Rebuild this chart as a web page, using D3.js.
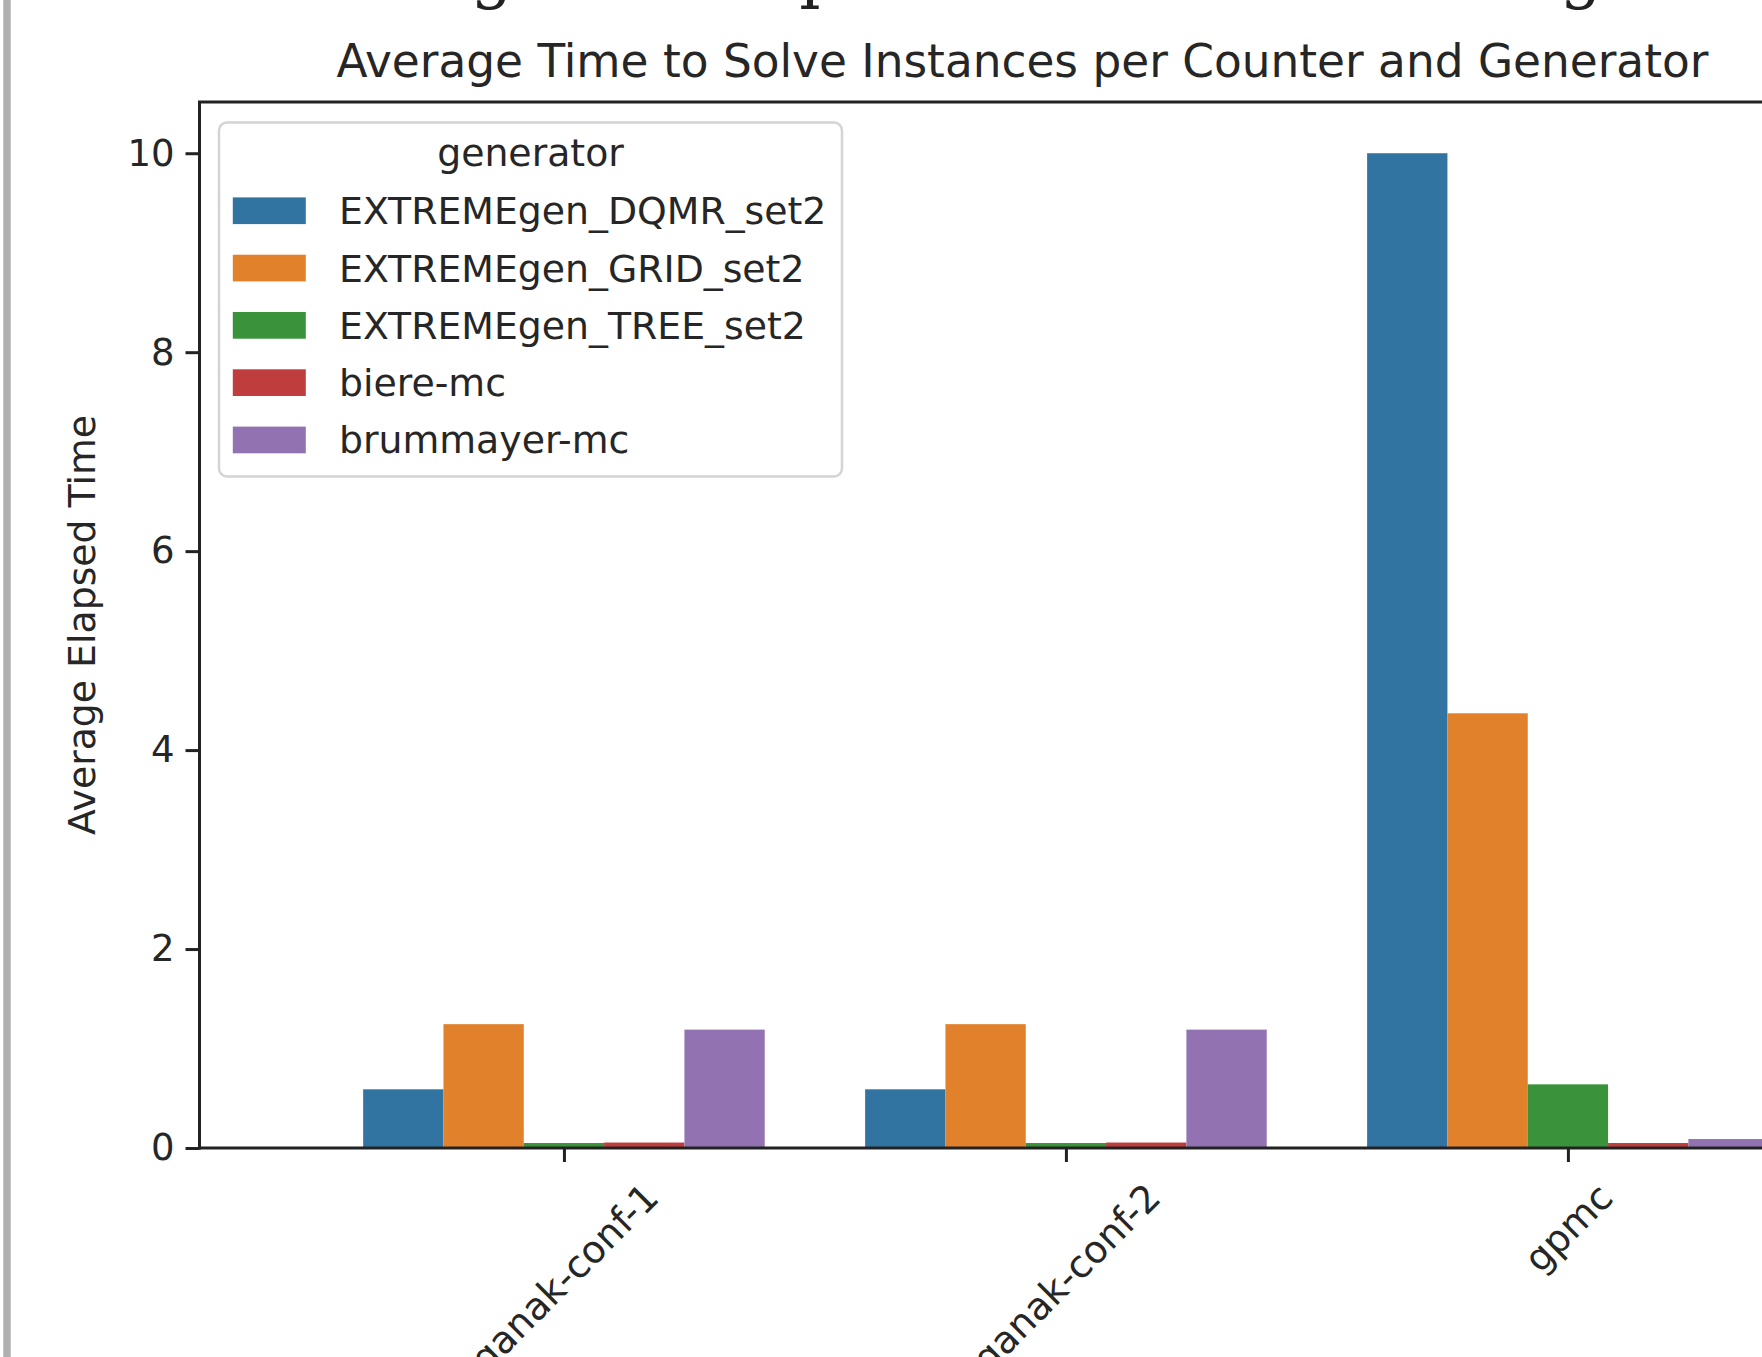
<!DOCTYPE html>
<html>
<head>
<meta charset="utf-8">
<script src="https://cdn.jsdelivr.net/npm/d3@7"></script>
<style>
  html, body { margin: 0; padding: 0; background: #ffffff; overflow: hidden; }
  svg { display: block; }
  text { font-family: "DejaVu Sans", sans-serif; fill: #262626; }
</style>
</head>
<body>
<svg id="chart" width="1762" height="1357"></svg>
<script>
// ---------------- data ----------------
const categories = ["ganak-conf-1", "ganak-conf-2", "gpmc"];
const generators = ["EXTREMEgen_DQMR_set2", "EXTREMEgen_GRID_set2", "EXTREMEgen_TREE_set2", "biere-mc", "brummayer-mc"];
const dqmrValues      = [0.59, 0.59, 10.0];
const gridValues      = [1.245, 1.245, 4.37];
const treeValues      = [0.05, 0.05, 0.64];
const biereValues     = [0.055, 0.055, 0.05];
const brummayerValues = [1.19, 1.19, 0.09];
const yTickValues = [0, 2, 4, 6, 8, 10];
const palette = ["#3274A1", "#E1812C", "#3A923A", "#C03D3E", "#9372B2"];
const chartTitle = "Average Time to Solve Instances per Counter and Generator";
const pageHeading = "Average Times per Counter and Configuration";
const yLabel = "Average Elapsed Time";
const legendTitle = "generator";

const seriesValues = [dqmrValues, gridValues, treeValues, biereValues, brummayerValues];
const rows = [];
categories.forEach((c, i) => generators.forEach((g, j) => rows.push({ ci: i, gj: j, value: seriesValues[j][i] })));

// ---------------- layout ----------------
const W = 1762, H = 1357;
const axL = 199.5, axR = 1845.5, axT = 102, axB = 1148;
const fs = 37;      // tick labels
const fsL = 37.8;   // legend, axis label
const svg = d3.select("#chart");

svg.append("rect").attr("x", 0).attr("y", 0).attr("width", W).attr("height", H).attr("fill", "#fff");
// page border strip at left
svg.append("rect").attr("x", 3.3).attr("y", 0).attr("width", 7.4).attr("height", H).attr("fill", "#b0b0b0");

// heading of surrounding page (only descenders visible)
const heading = svg.append("text")
  .attr("x", 0).attr("y", -5)
  .style("font-family", "'DejaVu Serif', serif")
  .style("font-size", "67px")
  .style("fill", "#222")
  .text(pageHeading);
{
  const node = heading.node();
  const gi = pageHeading.indexOf("g");
  const ext = node.getExtentOfChar(gi);
  const shift = 492 - (ext.x + ext.width / 2);
  heading.attr("x", shift);
}

const x = d3.scaleLinear().domain([-0.726, 2.553]).range([axL, axR]);
const y = d3.scaleLinear().domain([0, 10.515]).range([axB, axT]);
const nH = generators.length;
const barW = (x(0.8 / nH) - x(0));

// bars
svg.append("g").selectAll("rect").data(rows).join("rect")
  .attr("x", d => x(d.ci - 0.4 + 0.8 / nH * d.gj))
  .attr("width", barW)
  .attr("y", d => y(d.value))
  .attr("height", d => y(0) - y(d.value))
  .attr("fill", d => palette[d.gj]);

// y axis
const yAxis = svg.append("g").attr("transform", `translate(${axL},0)`)
  .call(d3.axisLeft(y).tickValues(yTickValues).tickFormat(d3.format("d")).tickSize(14).tickPadding(11));
yAxis.select(".domain").remove();
yAxis.selectAll(".tick line").attr("stroke", "#222").attr("stroke-width", 3);
yAxis.selectAll(".tick text").style("font-size", fs + "px").style("font-family", "DejaVu Sans").attr("fill", "#262626");

// x axis
const xAxis = svg.append("g").attr("transform", `translate(0,${axB})`)
  .call(d3.axisBottom(x).tickValues(d3.range(categories.length)).tickFormat(i => categories[i]).tickSize(14).tickPadding(0));
xAxis.select(".domain").remove();
xAxis.selectAll(".tick line").attr("stroke", "#222").attr("stroke-width", 3);
xAxis.selectAll(".tick text")
  .style("font-size", fsL + "px").style("font-family", "DejaVu Sans").attr("fill", "#262626")
  .attr("text-anchor", "middle").attr("dy", null).attr("y", 0)
  .attr("dominant-baseline", "central")
  .each(function () {
    const w = this.getComputedTextLength();
    const h = fsL * 1.164;
    const cy = 27 + (w + h) / (2 * Math.SQRT2);
    d3.select(this).attr("transform", `translate(0,${cy}) rotate(-45)`);
  });

// spines
const spine = svg.append("g").attr("stroke", "#222").attr("stroke-width", 3).attr("fill", "none");
spine.append("line").attr("x1", axL).attr("x2", axL).attr("y1", axT).attr("y2", axB + 1.5);
spine.append("line").attr("x1", axL).attr("x2", axR).attr("y1", axB).attr("y2", axB);
spine.append("line").attr("x1", axL - 1.5).attr("x2", axR).attr("y1", axT).attr("y2", axT);
spine.append("line").attr("x1", axR).attr("x2", axR).attr("y1", axT).attr("y2", axB);

// title
svg.append("text").attr("x", 1022.5).attr("y", 77).attr("text-anchor", "middle")
  .style("font-size", "45.4px").attr("fill", "#222").text(chartTitle);

// y label
svg.append("text").attr("transform", `translate(95,${(axT + axB) / 2}) rotate(-90)`)
  .attr("text-anchor", "middle").style("font-size", fsL + "px").text(yLabel);

// legend
const lg = svg.append("g");
lg.append("rect").attr("x", 219).attr("y", 122.5).attr("width", 623).attr("height", 354)
  .attr("rx", 8).attr("ry", 8)
  .attr("fill", "#fff").attr("fill-opacity", 0.8).attr("stroke", "#d4d4d4").attr("stroke-width", 2.5);
lg.append("text").attr("x", 530.5).attr("y", 166).attr("text-anchor", "middle")
  .style("font-size", fsL + "px").text(legendTitle);
const entry = lg.selectAll("g.entry").data(generators).join("g").attr("class", "entry")
  .attr("transform", (d, i) => `translate(0,${210.7 + i * 57.3})`);
entry.append("rect").attr("x", 232.8).attr("y", -13.3).attr("width", 73).attr("height", 26.7)
  .attr("fill", (d, i) => palette[i]);
entry.append("text").attr("x", 339).attr("y", 13.5).style("font-size", fsL + "px").text(d => d);
</script>
</body>
</html>
